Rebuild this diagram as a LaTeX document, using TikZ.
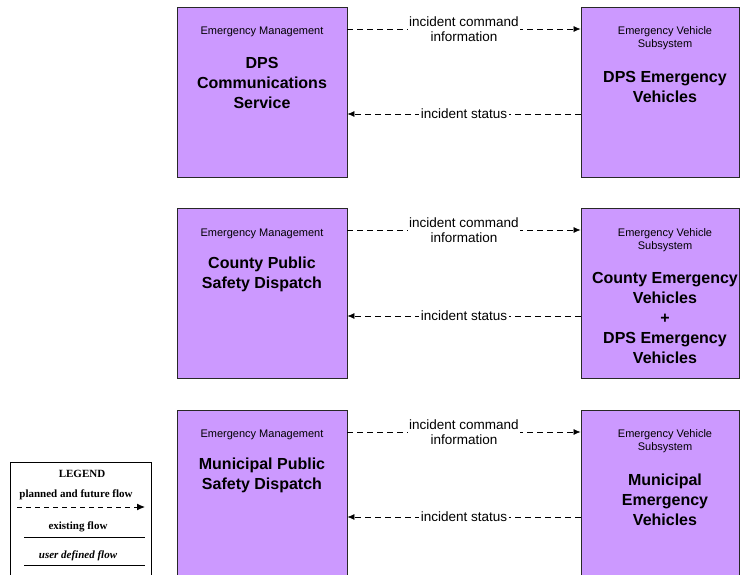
\documentclass[tikz,border=0pt]{standalone}
\usepackage{fontspec}
\setmainfont{Liberation Sans}
\newfontfamily\legendfont{Liberation Serif}
\usetikzlibrary{arrows.meta}
\definecolor{boxfill}{RGB}{204,153,255}
\definecolor{boxline}{RGB}{40,40,40}
\tikzset{
  sysbox/.style={draw=boxline, line width=0.9pt, fill=boxfill, inner sep=0pt},
  cat/.style={font=\fontsize{11}{13}\selectfont, align=center, inner sep=0pt},
  ttl/.style={font=\fontsize{16}{20}\selectfont\bfseries, align=center, inner sep=0pt},
  flow/.style={draw=black, line width=0.7pt, dash pattern=on 6pt off 4pt, -{Latex[length=7pt,width=6pt]}},
  flowlbl/.style={fill=white, font=\fontsize{13.5}{15}\selectfont, align=center, inner sep=1.5pt},
  leg/.style={font=\legendfont\fontsize{11}{13}\selectfont\bfseries, inner sep=0pt},
}
\begin{document}
\begin{tikzpicture}[x=1pt,y=-1pt]
\useasboundingbox (0,0) rectangle (740,575);
\clip (0,0) rectangle (740,575);
\fill[white] (0,0) rectangle (740,575);

% left boxes
\node[sysbox, minimum width=170pt, minimum height=170pt] (em1) at (262,92.5) {};
\node[sysbox, minimum width=170pt, minimum height=170pt] (em2) at (262,293.5) {};
\node[sysbox, minimum width=170pt, minimum height=190pt] (em3) at (262,505) {};
% right boxes
\node[sysbox, minimum width=158pt, minimum height=170pt] (ev1) at (660,92.5) {};
\node[sysbox, minimum width=158pt, minimum height=170pt] (ev2) at (660,293.5) {};
\node[sysbox, minimum width=158pt, minimum height=190pt] (ev3) at (660,505) {};

% texts left
\node[cat] (c1) at (262,32) {Emergency Management};
\node[ttl] (t1) at (262,83) {DPS\\Communications\\Service};
\node[cat] (c2) at (262,234) {Emergency Management};
\node[ttl] (t2) at (262,274) {County Public\\Safety Dispatch};
\node[cat] (c3) at (262,435) {Emergency Management};
\node[ttl] (t3) at (262,475) {Municipal Public\\Safety Dispatch};

% texts right
\node[cat] (d1) at (665,38.5) {Emergency Vehicle\\Subsystem};
\node[ttl] (u1) at (665,87) {DPS Emergency\\Vehicles};
\node[cat] (d2) at (665,240.5) {Emergency Vehicle\\Subsystem};
\node[ttl] (u2) at (665,318) {County Emergency\\Vehicles\\+\\DPS Emergency\\Vehicles};
\node[cat] (d3) at (665,441.5) {Emergency Vehicle\\Subsystem};
\node[ttl] (u3) at (665,500) {Municipal\\Emergency\\Vehicles};

% flow rows
\coordinate (r1a) at (0,29);  \coordinate (r1b) at (0,114);
\coordinate (r2a) at (0,230); \coordinate (r2b) at (0,316);
\coordinate (r3a) at (0,432); \coordinate (r3b) at (0,517);

\draw[flow] (em1.east |- r1a) -- (ev1.west |- r1a) node[midway, flowlbl] {incident command\\information};
\draw[flow] (ev1.west |- r1b) -- (em1.east |- r1b) node[midway, flowlbl] {incident status};
\draw[flow] (em2.east |- r2a) -- (ev2.west |- r2a) node[midway, flowlbl] {incident command\\information};
\draw[flow] (ev2.west |- r2b) -- (em2.east |- r2b) node[midway, flowlbl] {incident status};
\draw[flow] (em3.east |- r3a) -- (ev3.west |- r3a) node[midway, flowlbl] {incident command\\information};
\draw[flow] (ev3.west |- r3b) -- (em3.east |- r3b) node[midway, flowlbl] {incident status};

% legend
\node[draw=black, line width=0.9pt, fill=white, minimum width=141pt, minimum height=130pt, inner sep=0pt] (legend) at (80.5,527) {};
\node[leg] (lg) at (82,474) {LEGEND};
\node[leg] (lp) at (76,495) {planned and future flow};
\coordinate (lp1) at (17,507); \coordinate (lp2) at (145,507);
\draw[line width=1pt, dash pattern=on 5pt off 4pt, -{Latex[length=8pt,width=7pt]}] (lp1) -- (lp2);
\node[leg] (le) at (78,527) {existing flow};
\coordinate (le1) at (24,537); \coordinate (le2) at (145,537);
\draw[line width=1pt] (le1) -- (le2);
\node[leg, font=\legendfont\fontsize{11}{13}\selectfont\bfseries\itshape] (lu) at (78,556) {user defined flow};
\coordinate (lu1) at (24,565); \coordinate (lu2) at (145,565);
\draw[line width=1pt] (lu1) -- (lu2);
\end{tikzpicture}
\end{document}
